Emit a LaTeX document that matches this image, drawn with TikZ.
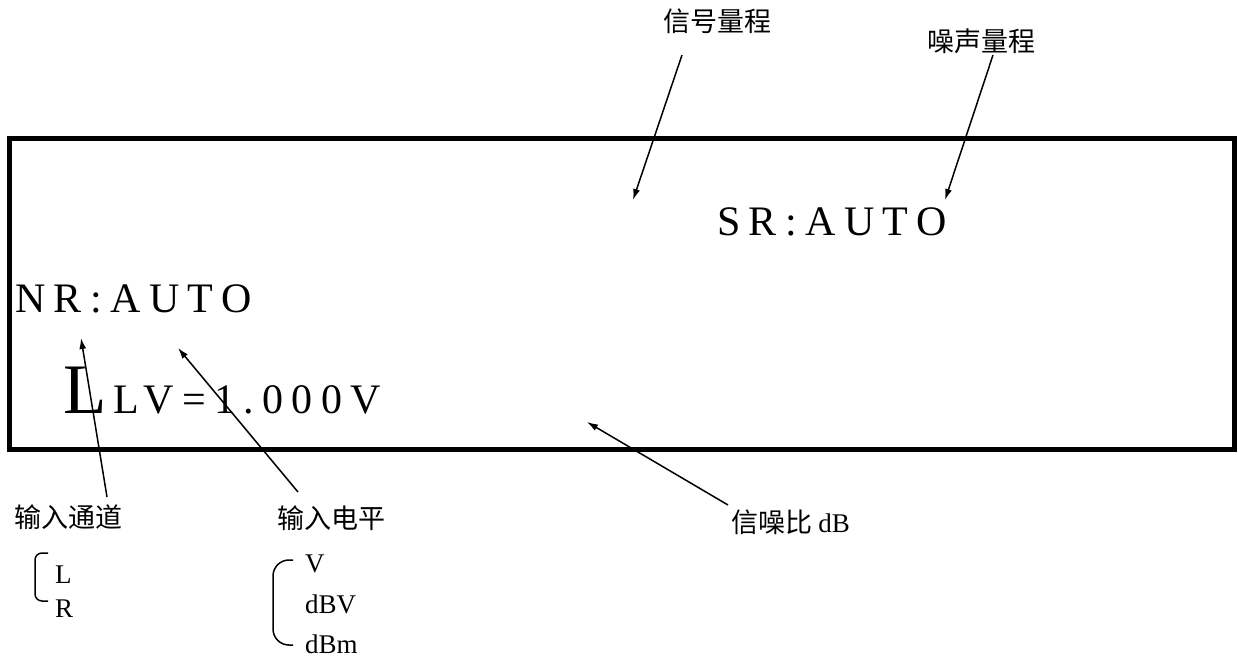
\documentclass[tikz,border=0pt]{standalone}
\usepackage{fontspec}
\setmainfont{Liberation Serif}
\newfontfamily\cjk{Noto Sans CJK SC}
\newfontfamily\lcd[LetterSpace=20]{Liberation Serif}
\usetikzlibrary{arrows.meta,positioning,calc}

\begin{document}
\begin{tikzpicture}[
  x=1pt, y=-1pt,
  >={Latex[length=11pt,width=7pt]},
  screen/.style={draw, line width=5pt, inner sep=0pt},
  lcdtext/.style={anchor=base west, inner sep=0pt,
                  font=\lcd\fontsize{42}{50}\selectfont},
  tag/.style={inner sep=0pt, font=\cjk\fontsize{27}{32}\selectfont},
  opt/.style={anchor=base west, inner sep=0pt,
              font=\fontsize{27}{32}\selectfont},
  arr/.style={->, line width=1.5pt},
  brace/.style={line width=1.5pt}]

\useasboundingbox (0,0) rectangle (1238,663);

% Display panel
\node[screen, minimum width=1224.5pt, minimum height=310pt] (panel) at (621.75,294) {};

% Display contents
\node[lcdtext]                                    (sr) at (717,235) {SR:AUTO};
\node[lcdtext]                                    (nr) at (15,312)  {NR:AUTO};
\node[lcdtext, font=\fontsize{71}{80}\selectfont] (ch) at (63,413)  {L};
\node[lcdtext]                                    (lv) at (113,413) {LV=1.000V};

% Callout labels
\node[tag]              (sigrng)   at (717,21)  {信号量程};
\node[tag]              (noiserng) at (981,41)  {噪声量程};
\node[tag]              (inchan)   at (68,517)  {输入通道};
\node[tag]              (inlevel)  at (331,518) {输入电平};
\node[tag, anchor=west] (snr)      at (731,522) {信噪比 {\rmfamily dB}};

% Choices below the labels
\node[opt]                                       (optl)   at (55,583)  {L};
\node[opt, below=34pt of optl.base west, anchor=base west] (optr) {R};
\node[opt]                                       (optv)   at (305,572) {V};
\node[opt, below=41pt of optv.base west, anchor=base west] (optdbv) {dBV};
\node[opt, below=40pt of optdbv.base west, anchor=base west] (optdbm) {dBm};

\draw[brace, rounded corners=7pt]  (48,553) -- (35,553) -- (35,601) -- (48,601);
\draw[brace, rounded corners=16pt] (293,560) -- (273,560) -- (273,645) -- (293,645);

% Arrow tips inside the panel
\coordinate (sigtip)   at (633,200);
\coordinate (noisetip) at (945,200);
\coordinate (chantip)  at (81,338);
\coordinate (leveltip) at (178,348);
\coordinate (snrtip)   at (587,422);

\draw[arr] ($(sigrng)+(-35,34)$)   -- (sigtip);
\draw[arr] ($(noiserng)+(12,14)$)  -- (noisetip);
\draw[arr] ($(inchan)+(39,-20)$)   -- (chantip);
\draw[arr] ($(inlevel)+(-33,-26)$) -- (leveltip);
\draw[arr] ($(snr.west)+(-3,-17)$) -- (snrtip);
\end{tikzpicture}
\end{document}
